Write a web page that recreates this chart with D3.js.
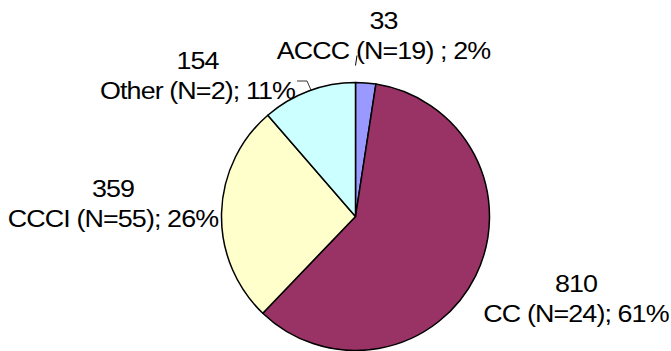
<!DOCTYPE html>
<html>
    <head>
        <title>Pie</title>
        <meta charset="UTF-8">
        <script type="text/javascript" src="https://cdn.jsdelivr.net/npm/d3@7/dist/d3.min.js"></script>
        <style>
            body { margin: 0; background: #fff; }
            text { font-family: "Liberation Sans", Arial, sans-serif; fill: #000; }
        </style>
    </head>
    <body>
        <script type="text/javascript">
            // data
            var categories = ["ACCC", "CC", "CCCI", "Other"];
            var counts = [33, 810, 359, 154];
            var nLabels = ["ACCC (N=19) ; 2%", "CC (N=24); 61%", "CCCI (N=55); 26%", "Other (N=2); 11%"];
            var colors = ["#9999ff", "#993366", "#ffffcc", "#ccffff"];

            var w = 671, h = 351;
            var cx = 355.5, cy = 216.5, r = 134;

            // label block centres, relative to pie centre
            var labelAt = [[28, -179.5], [220.5, 83.5], [-242.5, -11.5], [-158, -139.5]];
            var lineGap = 30;

            var svg = d3.select("body").append("svg")
                    .attr("width", w)
                    .attr("height", h);

            var pie = d3.pie()
                    .sort(null)
                    .value(function(d) { return d; });

            var arc = d3.arc()
                    .innerRadius(0)
                    .outerRadius(r);

            var g = svg.append("g")
                    .attr("transform", "translate(" + cx + "," + cy + ")");

            g.selectAll("path.slice")
                    .data(pie(counts))
                    .enter()
                    .append("path")
                    .attr("class", "slice")
                    .attr("d", arc)
                    .style("fill", function(d, i) { return colors[i]; })
                    .style("stroke", "#000")
                    .style("stroke-width", "1.5")
                    .style("stroke-linejoin", "round");

            // leader lines
            g.append("path")
                    .attr("d", "M-58.5,-135.5L-48.5,-135.5L-44.5,-126.5")
                    .style("fill", "none")
                    .style("stroke", "#000")
                    .style("stroke-width", "0.8");
            g.append("path")
                    .attr("d", "M1.5,-161L0,-151")
                    .style("fill", "none")
                    .style("stroke", "#000")
                    .style("stroke-width", "1");

            var labels = g.selectAll("g.lbl")
                    .data(categories)
                    .enter()
                    .append("g")
                    .attr("class", "lbl")
                    .attr("transform", function(d, i) {
                        return "translate(" + labelAt[i][0] + "," + labelAt[i][1] + ")";
                    });

            // the source text is drawn wide and tight, so stretch it a little
            labels.append("text")
                    .attr("text-anchor", "middle")
                    .attr("y", -lineGap / 2 + 7)
                    .attr("transform", "scale(1.12,1)")
                    .style("font-size", "24px")
                    .style("letter-spacing", "-0.8px")
                    .text(function(d, i) { return counts[i]; });

            labels.append("text")
                    .attr("text-anchor", "middle")
                    .attr("y", lineGap / 2 + 7)
                    .attr("transform", "scale(1.12,1)")
                    .style("font-size", "24px")
                    .style("letter-spacing", "-0.8px")
                    .text(function(d, i) { return nLabels[i]; });
        </script>
    </body>
</html>
